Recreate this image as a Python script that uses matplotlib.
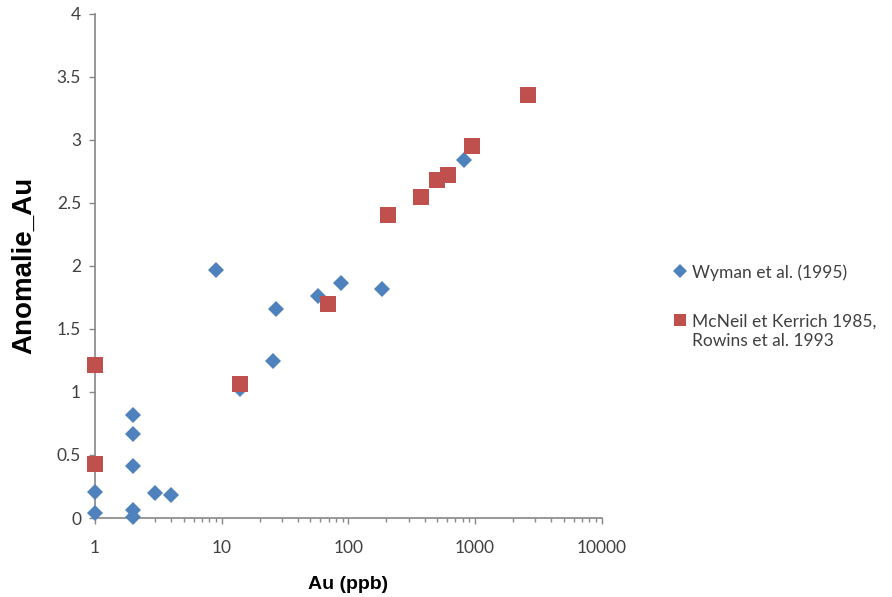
import numpy as np
import matplotlib
matplotlib.use("Agg")
import matplotlib.pyplot as plt
from matplotlib.ticker import FixedLocator, LogLocator, NullFormatter, FuncFormatter

plt.rcParams['font.family'] = ['Lato', 'DejaVu Sans']

# Wyman et al. (1995)
wyman_au = [1, 1, 2, 2, 2, 2, 2, 3, 4, 9.1, 13.9, 25.3, 26.7, 58, 88, 183, 820]
wyman_anom = [0.04, 0.21, 0.82, 0.67, 0.415, 0.064, 0.01, 0.20, 0.18, 1.97, 1.02, 1.246, 1.66, 1.764, 1.867, 1.815, 2.84]

# McNeil et Kerrich 1985, Rowins et al. 1993
mcneil_au = [1, 1, 13.9, 68.6, 206, 372, 497, 608, 946, 2630]
mcneil_anom = [1.21, 0.43, 1.06, 1.70, 2.405, 2.545, 2.68, 2.72, 2.95, 3.357]

x_ticks = [1, 10, 100, 1000, 10000]
y_ticks = [0, 0.5, 1, 1.5, 2, 2.5, 3, 3.5, 4]

blue = '#4F81BD'
red = '#C0504D'
axis_col = '#868686'
text_col = '#404040'

fig = plt.figure(figsize=(8.92, 5.97), dpi=100)
ax = fig.add_axes([0.1065, 0.1323, 0.568, 0.845])

ax.plot(wyman_au, wyman_anom, linestyle='none', marker='D', markersize=8.3,
        color=blue, markeredgewidth=0, label='Wyman et al. (1995)', clip_on=False, zorder=3)
ax.plot(mcneil_au, mcneil_anom, linestyle='none', marker='s', markersize=11.3,
        color=red, markeredgewidth=0, label='McNeil et Kerrich 1985,\nRowins et al. 1993',
        clip_on=False, zorder=4)

ax.set_xscale('log')
ax.set_xlim(1, 10000)
ax.set_ylim(0, 4)
ax.xaxis.set_major_locator(FixedLocator(x_ticks))
ax.xaxis.set_major_formatter(FuncFormatter(lambda v, p: '%d' % v))
ax.xaxis.set_minor_locator(LogLocator(base=10, subs=np.arange(2, 10)))
ax.xaxis.set_minor_formatter(NullFormatter())
ax.yaxis.set_major_locator(FixedLocator(y_ticks))
ax.yaxis.set_major_formatter(FuncFormatter(lambda v, p: ('%g' % v)))

for s in ['top', 'right']:
    ax.spines[s].set_visible(False)
for s in ['left', 'bottom']:
    ax.spines[s].set_color(axis_col)
    ax.spines[s].set_linewidth(1.2)

ax.tick_params(axis='both', which='major', direction='out', length=4, width=1,
               color=axis_col, labelsize=12.5, labelcolor=text_col)
ax.tick_params(axis='x', which='major', pad=12)
ax.tick_params(axis='y', which='major', pad=6)
ax.tick_params(axis='x', which='minor', direction='out', length=3, width=1, color=axis_col)

ax.set_xlabel('Au (ppb)', fontsize=14, fontweight='bold', color='black', labelpad=14,
              family=['Liberation Sans', 'DejaVu Sans'])
ax.set_ylabel('Anomalie_Au', fontsize=20, fontweight='bold', color='black', labelpad=14,
              family=['Liberation Sans', 'DejaVu Sans'])

leg = fig.legend(loc='upper left', bbox_to_anchor=(0.738, 0.583), frameon=False,
                 fontsize=12.5, labelspacing=1.9, handlelength=0.7, handletextpad=0.35,
                 markerscale=0.8, labelcolor=text_col)
# put the marker on the first line of a two-line label
for col in leg._legend_handle_box.get_children():
    for item in col.get_children():
        item.align = 'top'

fig.savefig('out.png', dpi=100)
